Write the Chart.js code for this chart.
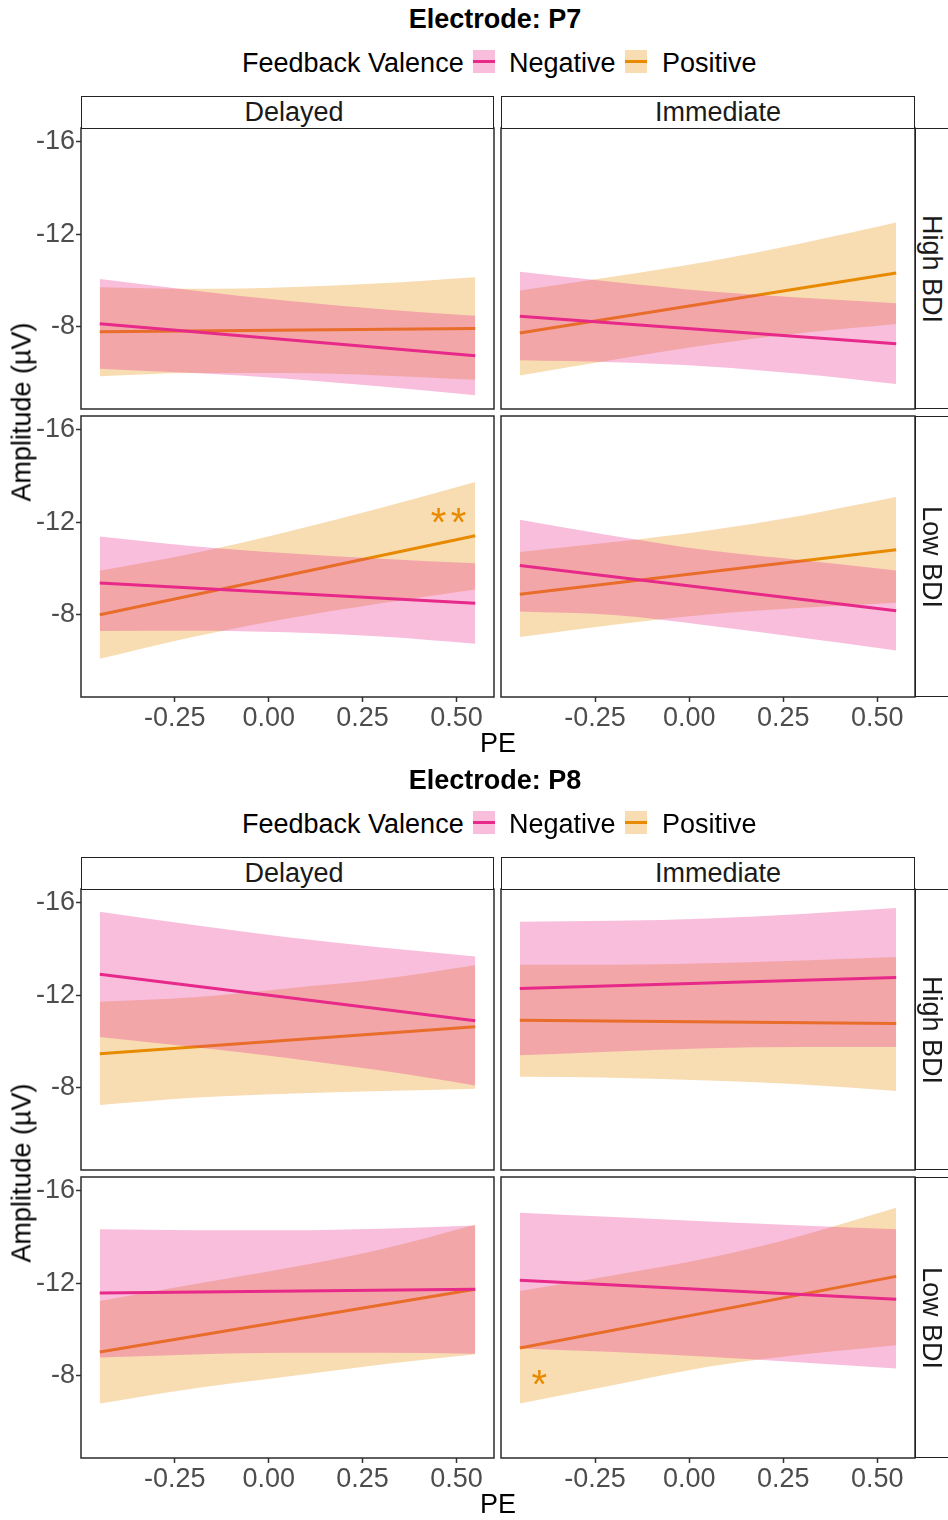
<!DOCTYPE html>
<html>
<head>
<meta charset="utf-8">
<script src="https://cdn.jsdelivr.net/npm/chart.js@4.4.1/dist/chart.umd.min.js"></script>
<style>
  body { margin: 0; background: #fff; }
  #fig { position: relative; width: 948px; height: 1520px; overflow: hidden; background: #fff;
         font-family: "Liberation Sans", Arial, sans-serif; }
  .txt { position: absolute; white-space: nowrap; font-size: 27px; line-height: 1; color: #000; }
  .strip { position: absolute; box-sizing: border-box; border: 1.5px solid #222; background: #fff; }
  .key { position: absolute; width: 22px; height: 23px; }
  .key i { position: absolute; left: 0; right: 0; top: 10px; height: 3px; }
  canvas { position: absolute; }
</style>
</head>
<body>
<div id="fig"></div>
<script>
const PE_FIT = [-0.45, -0.2, 0.05, 0.3, 0.55];
const PE_ENDS = [-0.45, 0.55];
const X_TICKS = [-0.25, 0, 0.25, 0.5];
const Y_TICKS = [-16, -12, -8];

const ELECTRODES = ['P7', 'P8'];
const TIMING = ['Delayed', 'Immediate'];
const BDI = ['High BDI', 'Low BDI'];
const VALENCE = ['Negative', 'Positive'];

// ---- Electrode P7 ----
const p7DelHighNegLine = [-8.13, -6.75];
const p7DelHighNegLo = [-10.06, -9.57, -9.12, -8.76, -8.47];
const p7DelHighNegHi = [-6.19, -6.00, -5.76, -5.42, -5.04];
const p7DelHighPosLine = [-7.78, -7.93];
const p7DelHighPosLo = [-9.71, -9.64, -9.71, -9.88, -10.14];
const p7DelHighPosHi = [-5.86, -6.00, -6.00, -5.90, -5.71];

const p7ImmHighNegLine = [-8.45, -7.27];
const p7ImmHighNegLo = [-10.37, -9.93, -9.53, -9.25, -9.02];
const p7ImmHighNegHi = [-6.55, -6.47, -6.29, -5.96, -5.53];
const p7ImmHighPosLine = [-7.73, -10.32];
const p7ImmHighPosLo = [-9.57, -10.17, -10.82, -11.61, -12.50];
const p7ImmHighPosHi = [-5.90, -6.58, -7.22, -7.73, -8.12];

const p7DelLowNegLine = [-9.37, -8.50];
const p7DelLowNegLo = [-11.38, -10.96, -10.66, -10.42, -10.22];
const p7DelLowNegHi = [-7.30, -7.31, -7.24, -7.06, -6.75];
const p7DelLowPosLine = [-8.00, -11.41];
const p7DelLowPosLo = [-9.90, -10.65, -11.58, -12.62, -13.73];
const p7DelLowPosHi = [-6.10, -7.05, -7.84, -8.50, -9.09];

const p7ImmLowNegLine = [-10.13, -8.17];
const p7ImmLowNegLo = [-12.10, -11.40, -10.78, -10.35, -9.91];
const p7ImmLowNegHi = [-8.14, -7.99, -7.54, -7.01, -6.46];
const p7ImmLowPosLine = [-8.89, -10.81];
const p7ImmLowPosLo = [-10.71, -11.14, -11.64, -12.29, -13.08];
const p7ImmLowPosHi = [-7.04, -7.57, -8.01, -8.30, -8.52];

// ---- Electrode P8 ----
const p8DelHighNegLine = [-12.90, -10.89];
const p8DelHighNegLo = [-15.60, -15.03, -14.50, -14.06, -13.67];
const p8DelHighNegHi = [-10.19, -9.76, -9.29, -8.74, -8.10];
const p8DelHighPosLine = [-9.47, -10.63];
const p8DelHighPosLo = [-11.71, -11.91, -12.29, -12.69, -13.29];
const p8DelHighPosHi = [-7.26, -7.57, -7.74, -7.86, -7.96];

const p8ImmHighNegLine = [-12.29, -12.76];
const p8ImmHighNegLo = [-15.17, -15.21, -15.31, -15.50, -15.76];
const p8ImmHighNegHi = [-9.40, -9.57, -9.71, -9.76, -9.76];
const p8ImmHighPosLine = [-10.91, -10.77];
const p8ImmHighPosLo = [-13.31, -13.31, -13.37, -13.49, -13.64];
const p8ImmHighPosHi = [-8.47, -8.43, -8.31, -8.14, -7.86];

const p8DelLowNegLine = [-11.57, -11.73];
const p8DelLowNegLo = [-14.32, -14.28, -14.28, -14.35, -14.49];
const p8DelLowNegHi = [-8.79, -8.92, -8.99, -8.99, -8.95];
const p8DelLowPosLine = [-9.03, -11.73];
const p8DelLowPosLo = [-11.23, -11.95, -12.65, -13.46, -14.52];
const p8DelLowPosHi = [-6.80, -7.45, -7.97, -8.49, -8.93];

const p8ImmLowNegLine = [-12.12, -11.30];
const p8ImmLowNegLo = [-15.04, -14.85, -14.66, -14.49, -14.32];
const p8ImmLowNegHi = [-9.18, -9.03, -8.82, -8.57, -8.31];
const p8ImmLowPosLine = [-9.20, -12.29];
const p8ImmLowPosLo = [-11.66, -12.34, -13.08, -14.06, -15.25];
const p8ImmLowPosHi = [-6.80, -7.60, -8.39, -8.92, -9.32];

// significance stars
const starElectrode = ['P7', 'P8'];
const starTiming = ['Delayed', 'Immediate'];
const starBdi = ['Low BDI', 'Low BDI'];
const starX = [0.479, -0.398];
const starY = [-12.22, -7.88];
const starText = ['**', '*'];

// ---- styling / layout ----
const NEG_COLOR = '#E7298A';
const POS_COLOR = '#E88A00';
const NEG_FILL = 'rgba(231,41,138,0.3)';
const POS_FILL = 'rgba(232,138,0,0.3)';
const FONT = '"Liberation Sans", Arial, sans-serif';
const FIG_DY = [0, 761];
const COL_X = [[81, 494], [501, 915]];
const ROW_Y = [[128, 409], [416, 697]];
const STRIP_TEXT_X = [294, 718];

Chart.defaults.font.family = FONT;
Chart.defaults.font.size = 27;
Chart.defaults.color = '#4D4D4D';

const panels = [
  ['P7', 0, 0, [p7DelHighNegLine, p7DelHighNegLo, p7DelHighNegHi], [p7DelHighPosLine, p7DelHighPosLo, p7DelHighPosHi]],
  ['P7', 1, 0, [p7ImmHighNegLine, p7ImmHighNegLo, p7ImmHighNegHi], [p7ImmHighPosLine, p7ImmHighPosLo, p7ImmHighPosHi]],
  ['P7', 0, 1, [p7DelLowNegLine, p7DelLowNegLo, p7DelLowNegHi], [p7DelLowPosLine, p7DelLowPosLo, p7DelLowPosHi]],
  ['P7', 1, 1, [p7ImmLowNegLine, p7ImmLowNegLo, p7ImmLowNegHi], [p7ImmLowPosLine, p7ImmLowPosLo, p7ImmLowPosHi]],
  ['P8', 0, 0, [p8DelHighNegLine, p8DelHighNegLo, p8DelHighNegHi], [p8DelHighPosLine, p8DelHighPosLo, p8DelHighPosHi]],
  ['P8', 1, 0, [p8ImmHighNegLine, p8ImmHighNegLo, p8ImmHighNegHi], [p8ImmHighPosLine, p8ImmHighPosLo, p8ImmHighPosHi]],
  ['P8', 0, 1, [p8DelLowNegLine, p8DelLowNegLo, p8DelLowNegHi], [p8DelLowPosLine, p8DelLowPosLo, p8DelLowPosHi]],
  ['P8', 1, 1, [p8ImmLowNegLine, p8ImmLowNegLo, p8ImmLowNegHi], [p8ImmLowPosLine, p8ImmLowPosLo, p8ImmLowPosHi]]
];

const fig = document.getElementById('fig');

function text(str, x, y, o = {}) {
  const d = document.createElement('div');
  d.className = 'txt';
  d.textContent = str;
  d.style.left = x + 'px';
  d.style.top = y + 'px';
  d.style.transform = `translate(${o.left ? '0' : '-50%'}, -50%)` + (o.rotate ? ` rotate(${o.rotate}deg)` : '');
  if (o.bold) d.style.fontWeight = 'bold';
  if (o.color) d.style.color = o.color;
  fig.appendChild(d);
  return d;
}

function box(cls, l, t, w, h) {
  const d = document.createElement('div');
  d.className = cls;
  Object.assign(d.style, { left: l + 'px', top: t + 'px', width: w + 'px', height: h + 'px' });
  fig.appendChild(d);
  return d;
}

function pts(xs, ys) { return xs.map((x, i) => ({ x, y: ys[i] })); }

// frame around each panel + star annotations
const panelFrame = {
  id: 'panelFrame',
  afterDraw(chart) {
    const { ctx, chartArea: a } = chart;
    const stars = chart.options.plugins.panelFrame.stars || [];
    ctx.save();
    stars.forEach(s => {
      const px = chart.scales.x.getPixelForValue(s.x);
      const py = chart.scales.y.getPixelForValue(s.y);
      ctx.font = '40px ' + FONT;
      ctx.fillStyle = POS_COLOR;
      ctx.textAlign = 'center';
      ctx.textBaseline = 'alphabetic';
      const chars = s.text.split('');
      const step = 20;
      chars.forEach((c, i) => {
        ctx.fillText(c, px + (i - (chars.length - 1) / 2) * step, py + 19);
      });
    });
    ctx.strokeStyle = '#2b2b2b';
    ctx.lineWidth = 1.5;
    ctx.strokeRect(a.left, a.top, a.right - a.left, a.bottom - a.top);
    ctx.restore();
  }
};

function zeroPad(s) { s.paddingLeft = s.paddingRight = s.paddingTop = s.paddingBottom = 0; }

panels.forEach(([el, col, row, neg, pos]) => {
  const dy = FIG_DY[ELECTRODES.indexOf(el)];
  const isLeft = col === 0, isBottom = row === 1;
  const [x0, x1] = COL_X[col];
  const [y0, y1] = [ROW_Y[row][0] + dy, ROW_Y[row][1] + dy];
  const padL = isLeft ? x0 : 3, padB = isBottom ? 45 : 3;
  const cw = (x1 - x0) + padL + 3, ch = (y1 - y0) + 3 + padB;
  const c = document.createElement('canvas');
  c.width = cw; c.height = ch;
  c.style.left = (x0 - padL) + 'px';
  c.style.top = (y0 - 3) + 'px';
  c.style.width = cw + 'px'; c.style.height = ch + 'px';
  fig.appendChild(c);

  const stars = [];
  starText.forEach((t, i) => {
    if (starElectrode[i] === el && starTiming[i] === TIMING[col] && starBdi[i] === BDI[row]) {
      stars.push({ x: starX[i], y: starY[i], text: t });
    }
  });

  const band = (ys, color, fill, order) => ({
    data: pts(PE_FIT, ys), borderWidth: 0, borderColor: 'transparent', pointRadius: 0,
    backgroundColor: color, fill, order, cubicInterpolationMode: 'monotone'
  });
  const line = (ys, color, order) => ({
    data: pts(PE_ENDS, ys), borderWidth: 3, borderColor: color, pointRadius: 0, fill: false, order
  });

  new Chart(c, {
    type: 'line',
    data: {
      datasets: [
        line(neg[0], NEG_COLOR, 0),
        band(neg[1], NEG_FILL, '+1', 1),
        band(neg[2], NEG_FILL, false, 2),
        line(pos[0], POS_COLOR, 3),
        band(pos[1], POS_FILL, '+1', 4),
        band(pos[2], POS_FILL, false, 5)
      ]
    },
    options: {
      responsive: false, animation: false, devicePixelRatio: 1, events: [],
      layout: { padding: { left: isLeft ? 0 : 3, right: 3, top: 3, bottom: isBottom ? 0 : 3 } },
      plugins: { legend: { display: false }, tooltip: { enabled: false }, panelFrame: { stars } },
      scales: {
        x: {
          type: 'linear', min: -0.5, max: 0.6, display: isBottom,
          afterBuildTicks: s => { s.ticks = X_TICKS.map(v => ({ value: v })); },
          afterFit: s => { s.height = isBottom ? 45 : 0; zeroPad(s); },
          ticks: { padding: 0, maxRotation: 0, callback: v => v.toFixed(2), color: '#4D4D4D' },
          grid: { drawOnChartArea: false, drawTicks: true, tickLength: 5, tickWidth: 1.5, tickColor: '#333' },
          border: { display: false }
        },
        y: {
          type: 'linear', min: -16.58, max: -4.45, reverse: true, display: isLeft,
          afterBuildTicks: s => { s.ticks = Y_TICKS.map(v => ({ value: v })); },
          afterFit: s => { s.width = isLeft ? 81 : 0; zeroPad(s); },
          ticks: { padding: 1, callback: v => String(v), color: '#4D4D4D' },
          grid: { drawOnChartArea: false, drawTicks: true, tickLength: 5, tickWidth: 1.5, tickColor: '#333' },
          border: { display: false }
        }
      }
    },
    plugins: [panelFrame]
  });
});

// titles, legends, strips, axis titles
ELECTRODES.forEach((el, k) => {
  const dy = FIG_DY[k];
  text('Electrode: ' + el, 495, 19 + dy, { bold: true });
  text('Feedback Valence', 242, 63 + dy, { left: true });
  const k1 = box('key', 473, 50 + dy, 22, 23); k1.style.background = NEG_FILL;
  const l1 = document.createElement('i'); l1.style.background = NEG_COLOR; k1.appendChild(l1);
  text(VALENCE[0], 509, 63 + dy, { left: true });
  const k2 = box('key', 625, 50 + dy, 22, 23); k2.style.background = POS_FILL;
  const l2 = document.createElement('i'); l2.style.background = POS_COLOR; k2.appendChild(l2);
  text(VALENCE[1], 662, 63 + dy, { left: true });

  TIMING.forEach((t, c) => {
    const [x0, x1] = COL_X[c];
    box('strip', x0, 96 + dy, x1 - x0, 33);
    text(t, STRIP_TEXT_X[c], 112 + dy, { color: '#1A1A1A' });
  });
  BDI.forEach((b, r) => {
    const [y0, y1] = ROW_Y[r];
    box('strip', 915, y0 + dy, 40, y1 - y0);
    text(b, 931, (y0 + y1) / 2 + dy, { rotate: 90, color: '#1A1A1A' });
  });
  text('Amplitude (µV)', 22, 412 + dy, { rotate: -90 });
  text('PE', 498, 743 + dy);
});
</script>
</body>
</html>
